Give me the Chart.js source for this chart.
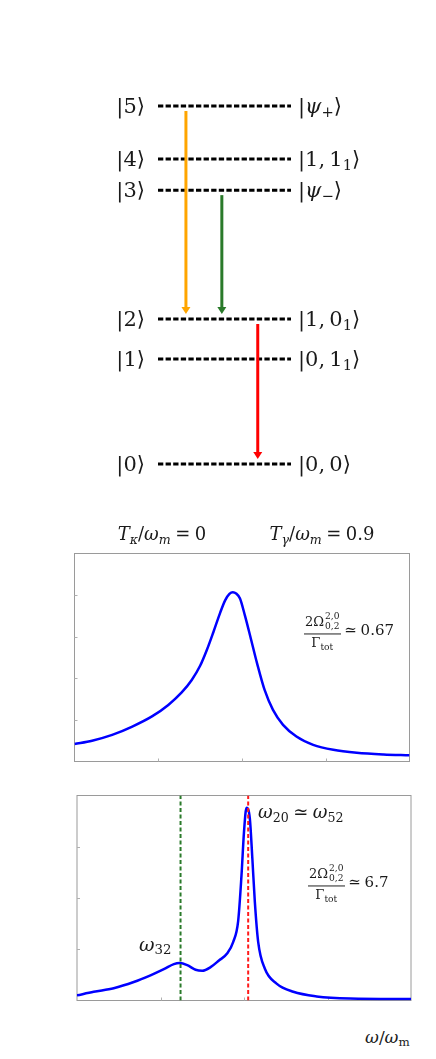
<!DOCTYPE html>
<html>
<head>
<meta charset="utf-8">
<script src="https://cdn.jsdelivr.net/npm/chart.js@4.4.1/dist/chart.umd.min.js"></script>
<style>
body{margin:0;background:#fff}
#page{position:relative;width:436px;height:1059px;overflow:hidden;background:#fff}
canvas{position:absolute}
.t{position:absolute;font-family:"DejaVu Serif","Liberation Serif",serif;color:#1a1a1a;white-space:nowrap;line-height:1}
.t i{font-style:italic}
.t sub{font-size:0.7em;vertical-align:-0.3em;line-height:0}
.t sup{font-size:0.7em;vertical-align:0.45em;line-height:0}
.eq{margin:0 0.25em}
.frac{display:inline-block;vertical-align:middle;text-align:center}
.frac .num{display:block;border-bottom:1px solid #222;padding:0 1px 2px}
.frac .den{display:block;padding-top:2px}
.ss{display:inline-flex;flex-direction:column;font-size:0.7em;line-height:1.05;vertical-align:middle;text-align:left;margin-left:1px}
</style>
</head>
<body>
<div id="page">
  <canvas id="diag" width="240" height="420" style="left:100px;top:80px"></canvas>
  <canvas id="top" width="370" height="240" style="left:60px;top:540px"></canvas>
  <canvas id="bot" width="370" height="240" style="left:60px;top:780px"></canvas>

  <div class="t" style="left:162px;top:534px;font-size:18px;transform:translate(-50%,-50%)"><i>T</i><sub><i>κ</i></sub>/<i>ω</i><sub><i>m</i></sub><span class="eq">=</span>0</div>
  <div class="t" style="left:322px;top:534px;font-size:18px;transform:translate(-50%,-50%)"><i>T</i><sub><i>γ</i></sub>/<i>ω</i><sub><i>m</i></sub><span class="eq">=</span>0.9</div>

  <div class="t" style="left:304px;top:631px;font-size:15px;transform:translateY(-50%)"><span class="frac" style="font-size:13px"><span class="num">2Ω<span class="ss"><span>2,0</span><span>0,2</span></span></span><span class="den">Γ<sub>tot</sub></span></span><span class="eq">≃</span>0.67</div>
  <div class="t" style="left:308px;top:883px;font-size:15px;transform:translateY(-50%)"><span class="frac" style="font-size:13px"><span class="num">2Ω<span class="ss"><span>2,0</span><span>0,2</span></span></span><span class="den">Γ<sub>tot</sub></span></span><span class="eq">≃</span>6.7</div>

  <div class="t" style="left:258px;top:812px;font-size:18px;transform:translateY(-50%)"><i>ω</i><sub>20</sub><span class="eq">≃</span><i>ω</i><sub>52</sub></div>
  <div class="t" style="left:139px;top:944px;font-size:19px;transform:translateY(-50%)"><i>ω</i><sub>32</sub></div>
  <div class="t" style="left:365px;top:1037px;font-size:17px;transform:translateY(-50%)"><i>ω</i>/<i>ω</i><sub>m</sub></div>
</div>
<script>
// energy levels |0> .. |5> (diagram units)
const levelE = [0, 2.93, 4.05, 7.65, 8.52, 10];
const leftKets = ['|0⟩', '|1⟩', '|2⟩', '|3⟩', '|4⟩', '|5⟩'];
const rightKets = ['|0,&thinsp;0⟩', '|0,&thinsp;1<sub>1</sub>⟩', '|1,&thinsp;0<sub>1</sub>⟩', '|<i>ψ</i><sub>−</sub>⟩', '|1,&thinsp;1<sub>1</sub>⟩', '|<i>ψ</i><sub>+</sub>⟩'];

// transitions (arrows)
const transFrom = [5, 3, 2];
const transTo = [2, 2, 0];
const transX = [0.21, 0.48, 0.75];
const transColor = ['#ffa500', '#2a7a2a', '#ff0000'];

// top spectrum
const topX = [0, 0.21, 0.45, 0.69, 0.93, 1.12, 1.28, 1.40, 1.50, 1.58, 1.66, 1.74, 1.80, 1.85, 1.89, 1.93, 1.976, 2.036, 2.10, 2.18, 2.27, 2.37, 2.49, 2.65, 2.85, 3.09, 3.37, 3.69, 4.00];
const topY = [0.42, 0.50, 0.64, 0.84, 1.09, 1.36, 1.66, 1.96, 2.30, 2.68, 3.12, 3.58, 3.88, 4.03, 4.07, 4.04, 3.92, 3.50, 3.00, 2.36, 1.72, 1.24, 0.88, 0.60, 0.40, 0.28, 0.21, 0.17, 0.15];

// bottom spectrum
const botX = [0, 0.20, 0.44, 0.68, 0.88, 1.04, 1.16, 1.23, 1.32, 1.42, 1.50, 1.60, 1.70, 1.80, 1.87, 1.93, 1.97, 2.00, 2.03, 2.07, 2.10, 2.13, 2.17, 2.25, 2.39, 2.59, 2.87, 3.27, 4.00];
const botY = [0.10, 0.17, 0.24, 0.36, 0.49, 0.61, 0.71, 0.73, 0.69, 0.60, 0.58, 0.65, 0.78, 0.92, 1.14, 1.55, 2.44, 3.29, 3.76, 3.55, 2.77, 1.92, 1.14, 0.62, 0.33, 0.17, 0.08, 0.04, 0.03];
const w32 = 1.24;
const w20 = 2.05;

const xTicks = [1, 2, 3];
const topYTicks = [1, 2, 3, 4];
const botYTicks = [1, 2, 3];

const base = {
  responsive: false,
  animation: false,
  events: [],
  plugins: { legend: { display: false }, tooltip: { enabled: false } }
};

const arrowPlugin = {
  id: 'arrows',
  afterDatasetsDraw(chart) {
    const { ctx, scales } = chart;
    transFrom.forEach((f, i) => {
      const x = scales.x.getPixelForValue(transX[i]);
      const y1 = scales.y.getPixelForValue(levelE[f]) + 5;
      const y2 = scales.y.getPixelForValue(levelE[transTo[i]]) - 5;
      ctx.save();
      ctx.strokeStyle = transColor[i];
      ctx.fillStyle = transColor[i];
      ctx.lineWidth = 3;
      ctx.beginPath();
      ctx.moveTo(x, y1);
      ctx.lineTo(x, y2 - 5);
      ctx.stroke();
      ctx.beginPath();
      ctx.moveTo(x - 4.5, y2 - 7);
      ctx.lineTo(x + 4.5, y2 - 7);
      ctx.lineTo(x, y2);
      ctx.closePath();
      ctx.fill();
      ctx.restore();
    });
  }
};

const framePlugin = {
  id: 'frame',
  beforeDatasetsDraw(chart, args, opts) {
    const { ctx, chartArea: a, scales } = chart;
    ctx.save();
    ctx.strokeStyle = '#9a9a9a';
    ctx.lineWidth = 1;
    ctx.strokeRect(a.left, a.top, a.right - a.left, a.bottom - a.top);
    ctx.strokeStyle = '#b0b0b0';
    ctx.beginPath();
    opts.xTicks.forEach(v => {
      const x = Math.round(scales.x.getPixelForValue(v)) + 0.5;
      ctx.moveTo(x, a.bottom);
      ctx.lineTo(x, a.bottom - 3);
    });
    opts.yTicks.forEach(v => {
      const y = Math.round(scales.y.getPixelForValue(v)) + 0.5;
      ctx.moveTo(a.left, y);
      ctx.lineTo(a.left + 3, y);
    });
    ctx.stroke();
    ctx.restore();
  }
};

// level diagram
const diag = new Chart(document.getElementById('diag'), {
  type: 'scatter',
  data: {
    datasets: levelE.map(e => ({
      data: [{ x: 0, y: e }, { x: 1, y: e }],
      showLine: true,
      borderColor: '#000',
      borderWidth: 3,
      borderDash: [5.3, 2.3],
      pointRadius: 0,
      clip: false
    }))
  },
  options: {
    ...base,
    layout: { padding: { left: 58, right: 49, top: 26, bottom: 36 } },
    scales: {
      x: { type: 'linear', display: false, min: 0, max: 1 },
      y: { type: 'linear', display: false, min: 0, max: 10 }
    }
  },
  plugins: [arrowPlugin]
});

// ket labels placed from the diagram's y scale
const page = document.getElementById('page');
levelE.forEach((e, i) => {
  const y = 80 + diag.scales.y.getPixelForValue(e);
  const l = document.createElement('div');
  l.className = 't';
  l.style.cssText = `right:${436 - 145}px;top:${y}px;font-size:21px;transform:translateY(-50%)`;
  l.innerHTML = leftKets[i];
  page.appendChild(l);
  const r = document.createElement('div');
  r.className = 't';
  r.style.cssText = `left:298px;top:${y}px;font-size:21px;transform:translateY(-50%)`;
  r.innerHTML = rightKets[i];
  page.appendChild(r);
});

const curve = (xs, ys) => ({
  data: xs.map((x, i) => ({ x, y: ys[i] })),
  showLine: true,
  borderColor: '#0000ff',
  borderWidth: 2.5,
  pointRadius: 0,
  cubicInterpolationMode: 'monotone',
  order: 1
});

new Chart(document.getElementById('top'), {
  type: 'scatter',
  data: { datasets: [curve(topX, topY)] },
  options: {
    ...base,
    layout: { padding: { left: 14.5, right: 20.5, top: 13.5, bottom: 18.5 } },
    scales: {
      x: { type: 'linear', display: false, min: 0, max: 4 },
      y: { type: 'linear', display: false, min: 0, max: 5 }
    },
    plugins: { ...base.plugins, frame: { xTicks: xTicks, yTicks: topYTicks } }
  },
  plugins: [framePlugin]
});

const vline = (x, color) => ({
  data: [{ x, y: 0 }, { x, y: 4 }],
  showLine: true,
  borderColor: color,
  borderWidth: 2,
  borderDash: [4, 2.5],
  pointRadius: 0,
  order: 0
});

new Chart(document.getElementById('bot'), {
  type: 'scatter',
  data: { datasets: [curve(botX, botY), vline(w32, '#2a7a2a'), vline(w20, '#ff1a1a')] },
  options: {
    ...base,
    layout: { padding: { left: 17, right: 19, top: 15.5, bottom: 19.5 } },
    scales: {
      x: { type: 'linear', display: false, min: 0, max: 4 },
      y: { type: 'linear', display: false, min: 0, max: 4 }
    },
    plugins: { ...base.plugins, frame: { xTicks: xTicks, yTicks: botYTicks } }
  },
  plugins: [framePlugin]
});
</script>
</body>
</html>
